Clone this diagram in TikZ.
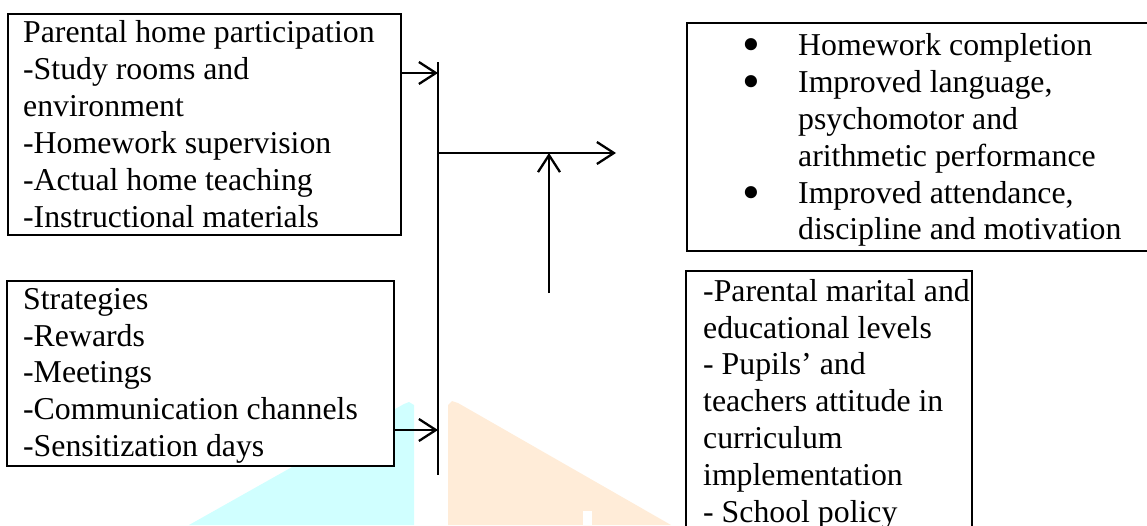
\documentclass[tikz,border=0pt]{standalone}
\usepackage{fontspec}
\setmainfont{Liberation Serif}
\usetikzlibrary{arrows.meta}
\definecolor{wmcyan}{RGB}{208,255,255}
\definecolor{wmorange}{RGB}{255,236,216}
\newcommand\boxtxt[5]{\begin{minipage}[t][#2][t]{#1}\setlength\leftskip{#3}\setlength\rightskip{-40pt plus 1fil}\vspace*{#4}#5\end{minipage}}
\newcommand\itm[1]{\par\hangindent=47pt\hangafter=1\noindent\makebox[47pt][l]{\hspace*{-9pt}\smash{\raisebox{-6.5pt}{\scalebox{1.6}{\textbullet}}}}\strut#1}
\begin{document}
\begin{tikzpicture}[x=1pt,y=-1pt,
  font=\fontsize{31.8pt}{36.9pt}\selectfont,
  box/.style={draw, line width=2.3pt, fill=white, inner sep=0pt, anchor=north west},
  conn/.style={line width=2.3pt},
  arr/.style={line width=2.3pt, -{Straight Barb[length=17pt,width=22pt]}}]
\useasboundingbox (0,0) rectangle (1147,525);
% faint background marks
\fill[wmcyan] (189,525) -- (404,404) -- (409,402) -- (414,405) -- (414,525) -- cycle;
\fill[wmorange] (448,525) -- (448,405) -- (452,401) -- (458,403) -- (671,525) -- cycle;
\fill[white] (583,511) rectangle (592,525);
% boxes
\node[box] (home) at (7,13) {\boxtxt{393pt}{221pt}{15pt}{3pt}{\strut Parental home participation\\-Study rooms and\\environment\\-Homework supervision\\-Actual home teaching\\-Instructional materials}};
\node[box] (strat) at (6,280) {\boxtxt{387pt}{185pt}{16pt}{2.2pt}{\strut Strategies\\-Rewards\\-Meetings\\-Communication channels\\-Sensitization days}};
\node[box] (out) at (686,22) {\boxtxt{470pt}{228pt}{64pt}{6.5pt}{\itm{Homework completion}\itm{Improved language,\\psychomotor and\\arithmetic performance}\itm{Improved attendance,\\discipline and motivation}}};
\node[box] (mod) at (685,270) {\boxtxt{286pt}{270pt}{17pt}{4.2pt}{\strut -Parental marital and\\educational levels\\- Pupils’ and\\teachers attitude in\\curriculum\\implementation\\- School policy}};
% connectors
\coordinate (jt) at (438,62);
\coordinate (jb) at (438,475);
\draw[conn] (jt) -- (jb);
\coordinate (j1) at (438,73);
\coordinate (j2) at (438,430);
\draw[arr] (home.east |- j1) -- (j1);
\draw[arr] (strat.east |- j2) -- (j2);
\coordinate (hs) at (438,153);
\coordinate (he) at (616,153);
\draw[arr] (hs) -- (he);
\coordinate (vs) at (549,293);
\coordinate (ve) at (549,153);
\draw[arr] (vs) -- (ve);
\end{tikzpicture}
\end{document}
